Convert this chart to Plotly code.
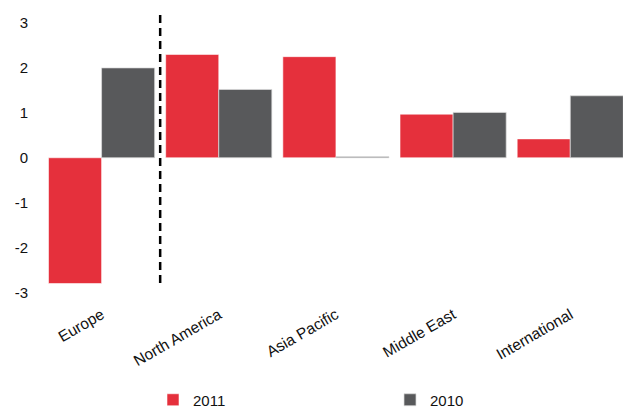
import plotly.graph_objects as go

categories = ["Europe", "North America", "Asia Pacific", "Middle East", "International"]
values_2011 = [-2.8, 2.3, 2.25, 0.97, 0.42]
values_2010 = [2.0, 1.52, 0.02, 1.01, 1.38]
y_ticks = [-3, -2, -1, 0, 1, 2, 3]
y_tick_text = ["-3", "-2", "-1", "0", "1", "2", "3"]

RED = "#E5303C"
GREY = "#58595B"
FONT = "Liberation Sans, Arial, sans-serif"
TXT = "#111111"

fig = go.Figure()
fig.add_trace(go.Bar(name="2011", x=categories, y=values_2011, marker_color=RED,
                     marker_line=dict(color="rgba(255,255,255,0.7)", width=0.8),
                     legend="legend"))
fig.add_trace(go.Bar(name="2010", x=categories, y=values_2010, marker_color=GREY,
                     marker_line=dict(color="rgba(220,220,220,0.9)", width=0.8),
                     legend="legend2"))

fig.add_shape(type="line", xref="x", yref="y", x0=0.5, x1=0.5, y0=3.18, y1=-2.88,
              line=dict(color="black", width=2.5, dash="8px,5px"))

legend_common = dict(orientation="h", xref="container", yref="container",
                     xanchor="left", yanchor="middle", y=0.022,
                     bgcolor="rgba(0,0,0,0)",
                     font=dict(size=15, family=FONT, color=TXT))

fig.update_layout(
    width=623, height=409,
    margin=dict(l=43, r=0, t=14, b=112, autoexpand=False),
    paper_bgcolor="white", plot_bgcolor="white",
    barmode="group", bargap=0.094, bargroupgap=0,
    font=dict(family=FONT, size=15, color=TXT),
    xaxis=dict(type="category", range=[-0.5, 4.45], automargin=False,
               tickangle=-30, showgrid=False, zeroline=False, showline=False, ticks="",
               ticklabelstandoff=5,
               tickfont=dict(size=15.5, family=FONT, color=TXT)),
    yaxis=dict(range=[-3.1, 3.2], tickvals=y_ticks, ticktext=y_tick_text,
               automargin=False, showgrid=False, zeroline=False,
               showline=False, ticks="", ticklabelstandoff=14,
               tickfont=dict(size=15, family=FONT, color=TXT)),
    legend=dict(x=153 / 623, **legend_common),
    legend2=dict(x=390 / 623, **legend_common),
    showlegend=True,
)

fig.write_html("out.html", config={"displayModeBar": False},
               post_script="document.body.style.margin='0';document.body.style.overflow='hidden';")
